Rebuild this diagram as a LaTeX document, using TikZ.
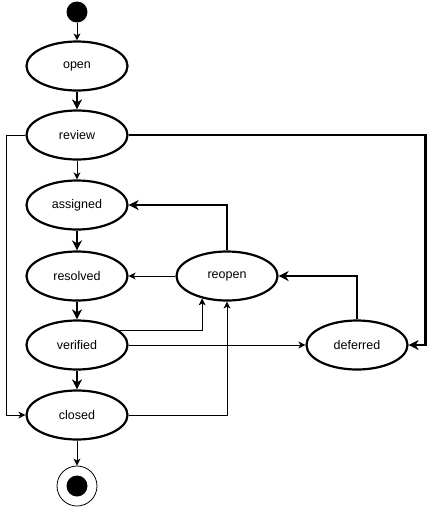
\documentclass[tikz,border=0pt]{standalone}
\usepackage{fontspec}
\setmainfont{Liberation Sans}
\usetikzlibrary{shapes.geometric,arrows.meta}
\tikzset{
	state/.style={ellipse,draw,line width=2.2pt,minimum width=101pt,minimum height=49pt,inner sep=0pt,font=\fontsize{12.5}{14}\selectfont},
	thin/.style={line width=0.9pt,-{Stealth[length=7pt,width=7pt,inset=2pt]}},
	thick/.style={line width=2.8pt,-{Stealth[length=10pt,width=10pt,inset=3pt]}}
}
\begin{document}
\begin{tikzpicture}[x=1pt,y=-1pt]
		\useasboundingbox (0,0) rectangle (437,507);
		
		\node[circle,fill,minimum size=21pt,inner sep=0pt] (start) at (77,12) {};
		\node[state] (open) at (77,66) {open};
		\node[state] (review) at (77,135) {review};
		\node[state] (assigned) at (77,205) {assigned};
		\node[state] (resolved) at (77,276) {resolved};
		\node[state] (reopen) at (227,276) {reopen};
		\node[state] (verified) at (77,345) {verified};
		\node[state] (deferred) at (357,345) {deferred};
		\node[state] (closed) at (77,415) {closed};
		\node[circle,draw,line width=0.8pt,minimum size=40pt,inner sep=0pt] (end) at (77,486) {};
		\node[circle,fill,minimum size=21pt,inner sep=0pt] at (end) {};
		
		\draw[thin] (start) -- (open);
		\draw[thick] (open) -- (review);
		\draw[thin] (review) -- (assigned);
		\draw[thick] (assigned) -- (resolved);
		\draw[thick] (resolved) -- (verified);
		\draw[thick] (verified) -- (closed);
		\draw[thin] (closed) -- (end);
		
		\draw[thin] (review.west) -- ++(-19,0) |- (closed.west);
		\draw[thick] (review.east) -- ++(297,0) |- (deferred.east);
		\draw[thick] (deferred.north) |- (reopen.east);
		\draw[thick] (reopen.north) |- (assigned.east);
		\draw[thin] (reopen) -- (resolved);
		\draw[thin] (verified.19) -| (reopen.222);
		\draw[thin] (verified) -- (deferred);
		\draw[thin] (closed.east) -| (reopen.south);
	\end{tikzpicture}
\end{document}
